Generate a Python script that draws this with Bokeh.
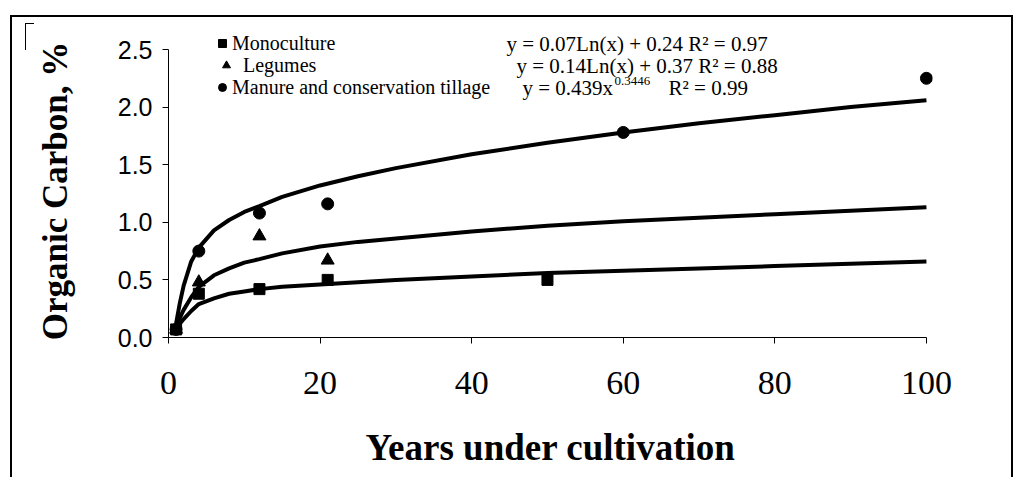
from bokeh.plotting import figure
from bokeh.models import (Legend, LegendItem, Label, FixedTicker, PrintfTickFormatter, Range1d)
from bokeh.embed import file_html
from bokeh.resources import INLINE

# ---- data ----
years_mono = [1, 4, 12, 21, 50]
carbon_mono = [0.07, 0.38, 0.42, 0.50, 0.50]
years_leg = [1, 4, 12, 21]
carbon_leg = [0.07, 0.48, 0.88, 0.67]
years_man = [1, 4, 12, 21, 60, 100]
carbon_man = [0.07, 0.75, 1.08, 1.16, 1.78, 2.25]

trend_years = [1, 1.5, 2, 3, 4, 6, 8, 10, 12, 15, 20, 25, 30, 40, 50, 60, 70, 80, 90, 100]
trend_mono = [0.08, 0.12, 0.16, 0.23, 0.29, 0.34, 0.38, 0.40, 0.42, 0.44, 0.46, 0.48,
              0.50, 0.53, 0.56, 0.58, 0.60, 0.62, 0.64, 0.66]
trend_leg = [0.09, 0.17, 0.24, 0.35, 0.44, 0.54, 0.60, 0.65, 0.68, 0.73, 0.79, 0.83,
             0.86, 0.92, 0.97, 1.01, 1.04, 1.07, 1.10, 1.13]
trend_man = [0.12, 0.30, 0.45, 0.66, 0.78, 0.93, 1.02, 1.09, 1.14, 1.22, 1.32, 1.40,
             1.47, 1.59, 1.69, 1.78, 1.86, 1.93, 2.00, 2.06]

series_names = ["Monoculture", "Legumes", "Manure and conservation tillage"]
eq_mono = "y = 0.07Ln(x) + 0.24  R\u00b2 = 0.97"
eq_leg = "y = 0.14Ln(x) + 0.37 R\u00b2 = 0.88"
eq_man_base = "y = 0.439x"
eq_man_exp = "0.3446"
eq_man_r2 = "R\u00b2 = 0.99"

x_title = "Years under cultivation"
y_title = "Organic Carbon, %"

x_ticks = [0, 20, 40, 60, 80, 100]
y_ticks = [0.0, 0.5, 1.0, 1.5, 2.0, 2.5]

# ---- layout (pixels) ----
W, H = 1015, 477
FL, FB, FT = 168, 337, 9          # frame left / bottom / top
PX_PER_Y = 115.2                  # pixels per 1.0 of carbon
y_top = (FB - FT) / PX_PER_Y

p = figure(width=W, height=H, output_backend="svg", toolbar_location=None,
           x_range=Range1d(0, 100.8), y_range=Range1d(0, y_top),
           min_border_left=FL, min_border_right=W - 932, min_border_top=FT,
           min_border_bottom=H - FB)
p.outline_line_color = None
p.xgrid.grid_line_color = None
p.ygrid.grid_line_color = None
p.background_fill_alpha = 0
p.border_fill_alpha = 0

# outer border of the chart and the small corner bracket, drawn as page background
p.styles = {
    "background-color": "white",
    "background-image": ", ".join(["linear-gradient(#000,#000)"] * 5),
    "background-position": "10px 15px, 10px 15px, 1011px 15px, 25px 23px, 25px 23px",
    "background-size": "2px 470px, 1003px 2px, 2px 470px, 1px 27px, 9px 1px",
    "background-repeat": "no-repeat",
}

# axes
p.xaxis.ticker = FixedTicker(ticks=x_ticks)
p.yaxis.ticker = FixedTicker(ticks=y_ticks)
p.yaxis.formatter = PrintfTickFormatter(format="%.1f")
p.xaxis.bounds = (0, 100)
p.yaxis.bounds = (0, 2.5)
for ax in (p.xaxis[0], p.yaxis[0]):
    ax.axis_line_color = "black"
    ax.axis_line_width = 1
    ax.major_tick_line_color = "black"
    ax.major_tick_in = 0
    ax.major_tick_out = 6
    ax.minor_tick_line_color = None
    ax.major_label_text_color = "black"
    ax.axis_label_text_color = "black"
    ax.axis_label_text_font = "Liberation Serif"
    ax.axis_label_text_font_style = "bold"

p.xaxis.major_label_text_font = "Liberation Serif"
p.xaxis.major_label_text_font_size = "34px"
p.xaxis.major_label_standoff = 28
p.xaxis.axis_label = x_title
p.xaxis.axis_label_text_font_size = "37px"
p.xaxis.axis_label_standoff = 30

p.yaxis.major_label_text_font = "Liberation Sans"
p.yaxis.major_label_text_font_size = "25px"
p.yaxis.major_label_standoff = 10
# trailing no-break spaces move the centred title down to the middle of the 0-2.5 axis
p.yaxis.axis_label = y_title + "\u00a0" * 4
p.yaxis.axis_label_text_font_size = "35px"
p.yaxis.axis_label_standoff = 40

# trend lines
for ys in (trend_mono, trend_leg, trend_man):
    p.line(trend_years, ys, line_color="black", line_width=4)

# points
r_mono = p.scatter(years_mono, carbon_mono, marker="square", size=11, color="black")
r_leg = p.scatter(years_leg, carbon_leg, marker="triangle", size=13, color="black")
r_man = p.scatter(years_man, carbon_man, marker="circle", size=12, color="black")

# legend: one small legend per entry so each row sits where the reference has it
ROW_H = 24
def add_entry(name, rend, row_center, glyph_center, text_left):
    vx = glyph_center - 10 - FL
    vy = FB - row_center - ROW_H / 2
    standoff = text_left - (FL + vx + 20)
    lg = Legend(items=[LegendItem(label=name, renderers=[rend])],
                location=(vx, vy), orientation="vertical",
                glyph_width=20, glyph_height=ROW_H, label_height=ROW_H, label_width=10,
                spacing=0, padding=0, margin=0, label_standoff=standoff,
                label_text_font="Liberation Serif", label_text_font_size="20px",
                label_text_color="black",
                border_line_alpha=0, background_fill_alpha=0)
    p.add_layout(lg)

add_entry(series_names[0], r_mono, 43, 222, 231)
add_entry(series_names[1], r_leg, 65, 226, 243)
add_entry(series_names[2], r_man, 87, 222, 231)

# equations (frame-relative screen positions)
def sx(px):
    return px - FL
def sy(py):
    return FB - py

eq_style = dict(x_units="screen", y_units="screen", text_font="Liberation Serif",
                text_font_size="21px", text_color="black", text_baseline="middle",
                text_align="left")
p.add_layout(Label(x=sx(506), y=sy(43), text=eq_mono, **eq_style))
p.add_layout(Label(x=sx(516), y=sy(65), text=eq_leg, **eq_style))
p.add_layout(Label(x=sx(522), y=sy(87), text=eq_man_base, **eq_style))
exp_style = dict(eq_style)
exp_style["text_font_size"] = "13px"
p.add_layout(Label(x=sx(614), y=sy(80), text=eq_man_exp, **exp_style))
p.add_layout(Label(x=sx(668), y=sy(87), text=eq_man_r2, **eq_style))

open("out.html", "w").write(file_html(p, INLINE))
